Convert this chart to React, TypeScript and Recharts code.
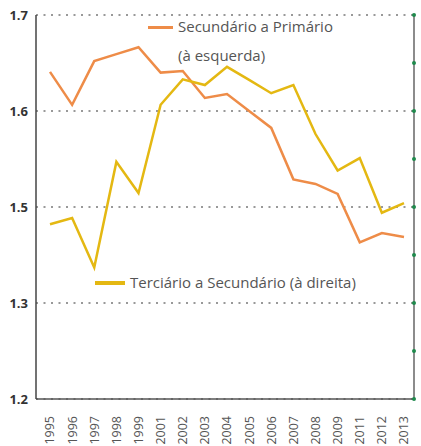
import { LineChart, Line, XAxis, YAxis, CartesianGrid } from 'recharts';

const years = [
  '1995', '1996', '1997', '1998', '1999', '2001', '2002', '2003', '2004',
  '2005', '2006', '2007', '2008', '2009', '2011', '2012', '2013',
];

// Secundário a Primário (eixo da esquerda)
const secundarioPrimario = [
  1.626, 1.583, 1.64, 1.649, 1.658, 1.625, 1.627, 1.592, 1.597,
  1.575, 1.553, 1.486, 1.48, 1.467, 1.404, 1.416, 1.411,
];

// Terciário a Secundário (eixo da direita)
const terciarioSecundario = [
  1.364, 1.377, 1.274, 1.494, 1.429, 1.613, 1.666, 1.654, 1.692,
  1.665, 1.637, 1.654, 1.552, 1.476, 1.502, 1.388, 1.408,
];

// the printed left labels skip 1.4, gridlines are evenly spaced
const leftTickValues = [1.2, 1.325, 1.45, 1.575, 1.7];
const leftTickLabels = ['1.2', '1.3', '1.5', '1.6', '1.7'];
const rightTickValues = [1.0, 1.1, 1.2, 1.3, 1.4, 1.5, 1.6, 1.7, 1.8];

const chartData = years.map((year, i) => ({
  year,
  sp: secundarioPrimario[i],
  ts: terciarioSecundario[i],
}));

const ORANGE = '#EE8C48';
const YELLOW = '#E4B812';
const FONT = '"Open Sans", sans-serif';

function YearTick({ x, y, payload }: any) {
  return (
    <g transform={`translate(${x},${y})`}>
      <text
        transform="rotate(-90)"
        textAnchor="end"
        dy="0.35em"
        fill="#555"
        fontSize={12.5}
        fontFamily={FONT}
      >
        {payload.value}
      </text>
    </g>
  );
}

function GreenDot({ x, y }: any) {
  return <circle cx={x} cy={y} r={2} fill="#1E8A4C" />;
}

const legendText = {
  position: 'absolute' as const,
  fontFamily: FONT,
  fontSize: 15,
  color: '#555',
  lineHeight: '20px',
  whiteSpace: 'nowrap' as const,
};

export default function App() {
  return (
    <div style={{ position: 'absolute', left: 0, top: 0, width: 421, height: 446, background: '#fff' }}>
      <LineChart
        width={421}
        height={446}
        data={chartData}
        margin={{ top: 15, right: 0, bottom: 0, left: 0 }}
      >
        <CartesianGrid
          yAxisId="left"
          vertical={false}
          stroke="#999"
          strokeWidth={2}
          strokeDasharray="2 5.5"
        />
        <XAxis
          dataKey="year"
          interval={0}
          height={47}
          padding={{ left: 14, right: 10 }}
          tickLine={false}
          tickSize={15}
          axisLine={{ stroke: '#555', strokeWidth: 1.5 }}
          tick={<YearTick />}
        />
        <YAxis
          yAxisId="left"
          width={36}
          domain={[1.2, 1.7]}
          ticks={leftTickValues}
          tickFormatter={(_v, i) => leftTickLabels[i]}
          tickLine={false}
          tickSize={6}
          axisLine={{ stroke: '#444', strokeWidth: 1.5 }}
          tick={{ fontSize: 13, fontWeight: 700, fill: '#333', fontFamily: FONT }}
        />
        <YAxis
          yAxisId="right"
          orientation="right"
          width={7}
          domain={[1.0, 1.8]}
          ticks={rightTickValues}
          tickLine={false}
          tickSize={0}
          tickMargin={0}
          axisLine={{ stroke: '#666', strokeWidth: 1.5 }}
          tick={<GreenDot />}
        />
        <Line
          yAxisId="left"
          dataKey="sp"
          stroke={ORANGE}
          strokeWidth={2.5}
          dot={false}
          isAnimationActive={false}
        />
        <Line
          yAxisId="right"
          dataKey="ts"
          stroke={YELLOW}
          strokeWidth={2.5}
          dot={false}
          isAnimationActive={false}
        />
      </LineChart>

      <div style={{ position: 'absolute', left: 148, top: 26, width: 25, height: 3, background: ORANGE }} />
      <div style={{ ...legendText, left: 178, top: 16 }}>Secundário a Primário</div>
      <div style={{ ...legendText, left: 178, top: 45 }}>(à esquerda)</div>

      <div style={{ position: 'absolute', left: 95, top: 281, width: 30, height: 3.5, background: YELLOW }} />
      <div style={{ ...legendText, left: 130, top: 272 }}>Terciário a Secundário (à direita)</div>
    </div>
  );
}
